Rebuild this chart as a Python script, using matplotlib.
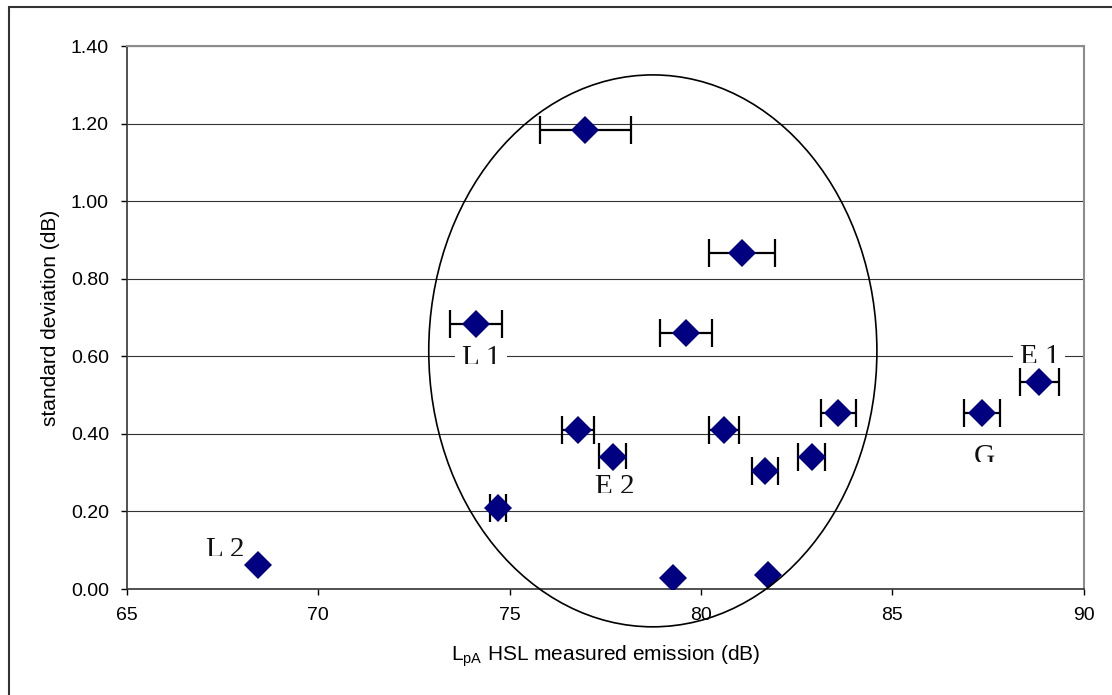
import matplotlib
matplotlib.use("Agg")
import matplotlib.pyplot as plt
from matplotlib.patches import Ellipse, Rectangle
from matplotlib.transforms import Bbox, TransformedBbox
import numpy as np

# emission level (dB) vs standard deviation (dB)
emission = [68.42, 74.11, 74.69, 76.98, 76.78, 77.69, 79.28, 79.60,
            81.06, 80.59, 81.68, 81.76, 82.89, 83.59, 87.35, 88.84]
std_dev = [0.062, 0.683, 0.209, 1.183, 0.410, 0.340, 0.028, 0.660,
           0.866, 0.410, 0.304, 0.036, 0.340, 0.454, 0.454, 0.534]
emission_err = [0.06, 0.68, 0.21, 1.19, 0.42, 0.35, 0.03, 0.68,
                0.86, 0.39, 0.34, 0.04, 0.35, 0.46, 0.47, 0.51]

# point labels: text, centre x, baseline y, y where the label box crops it
label_text = ["L 1", "E 2", "E 1", "G", "L 2"]
label_x = [74.26, 77.75, 88.84, 87.39, 67.57]
label_y = [0.577, 0.244, 0.579, 0.322, 0.082]
label_cut = [0.580, 0.248, 0.583, 0.327, 0.086]

xticks = [65, 70, 75, 80, 85, 90]
yticks = [0.0, 0.2, 0.4, 0.6, 0.8, 1.0, 1.2, 1.4]

plt.rcParams['font.family'] = ['Liberation Sans', 'DejaVu Sans']
plt.rcParams['mathtext.default'] = 'regular'

fig = plt.figure(figsize=(11.12, 6.95), dpi=100)
ax = fig.add_axes([0.1142, 0.1525, 0.8604, 0.7813])

ax.set_xlim(65, 90)
ax.set_ylim(0, 1.4)
ax.set_xticks(xticks)
ax.set_yticks(yticks)
ax.set_yticklabels(["%.2f" % v for v in yticks])
ax.tick_params(direction='out', length=4, width=1, labelsize=14, pad=9, color='black')

ax.set_axisbelow(True)
ax.yaxis.grid(True, color='#333333', linewidth=0.8)
for s in ['top', 'right']:
    ax.spines[s].set_color('#8c8c8c')
    ax.spines[s].set_linewidth(1.5)
for s in ['left', 'bottom']:
    ax.spines[s].set_color('#333333')
    ax.spines[s].set_linewidth(1.2)

x = np.array(emission)
y = np.array(std_dev)
err = np.array(emission_err)
big = err > 0.1  # the tiny bars vanish behind the markers
ax.errorbar(x[big], y[big], xerr=err[big], fmt='none', ecolor='black',
            elinewidth=1.6, capsize=10, capthick=1.6, zorder=2)
ax.plot(x, y, linestyle='none', marker='D', markersize=14,
        color='#000080', markeredgewidth=0, zorder=3)

# labels sit in white boxes that crop their lower edge
px = 1.0 / 387.86
for t, lx, ly, lc in zip(label_text, label_x, label_y, label_cut):
    box = Rectangle((lx - 0.68, lc), 1.36, 24 * px, transform=ax.transData,
                    facecolor='white', edgecolor='none', zorder=2.5)
    ax.add_patch(box)
    txt = ax.text(lx, ly, t, ha='center', va='baseline', fontsize=21,
                  family=['Liberation Serif', 'DejaVu Serif'], color='#111111', zorder=2.6)
    txt.set_clip_path(None)
    txt.set_clip_box(TransformedBbox(Bbox.from_bounds(lx - 0.68, lc, 1.36, 26 * px),
                                     ax.transData))
    txt.set_clip_on(True)

ell = Ellipse((78.74, 0.614), 11.71, 1.423, transform=ax.transData, fill=False,
              edgecolor='black', linewidth=1.2, clip_on=False, zorder=4)
ax.add_patch(ell)

ax.set_xlabel(r"L$_{pA}$ HSL measured emission (dB)", fontsize=15)
ax.set_ylabel("standard deviation (dB)", fontsize=15)
ax.xaxis.set_label_coords(0.5, -0.100)
ax.yaxis.set_label_coords(-0.070, 0.5)

# outer chart border (only left and top edges fall inside the picture)
border = Rectangle((9 / 1112, -0.2), 1.2, (695 - 7) / 695 + 0.2, transform=fig.transFigure,
                   fill=False, edgecolor='#333333', linewidth=1.5)
fig.add_artist(border)

fig.savefig("out.png", dpi=100)
